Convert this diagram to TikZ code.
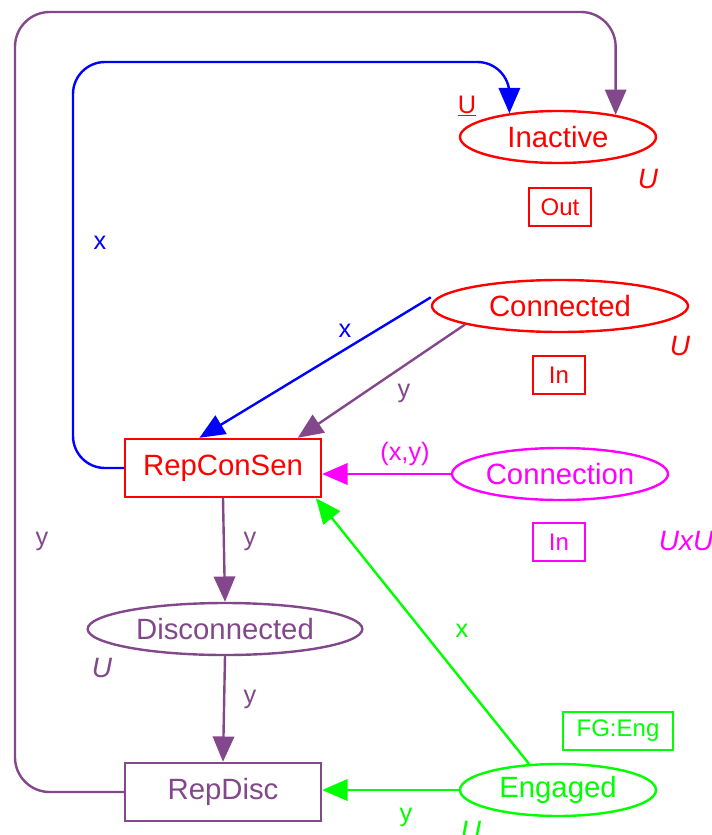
\documentclass[tikz,border=0pt]{standalone}
\usepackage{fontspec}
\setmainfont{Liberation Sans}
\usepackage{xcolor}
\usepackage{tikz}
\usetikzlibrary{arrows.meta,shapes.geometric}
\definecolor{pred}{HTML}{FF0000}
\definecolor{pblue}{HTML}{0000FF}
\definecolor{pmag}{HTML}{FF00FF}
\definecolor{pgreen}{HTML}{00FF00}
\definecolor{ppurple}{HTML}{83488B}
\tikzset{
  place/.style={ellipse, draw, line width=1.8pt, inner sep=0pt, minimum height=39pt, font=\fontsize{22}{24}\selectfont},
  trans/.style={rectangle, draw, line width=1.8pt, inner sep=0pt, minimum width=147pt, minimum height=43.5pt, font=\fontsize{22}{24}\selectfont},
  tag/.style={rectangle, draw, line width=1.5pt, inner sep=0pt, minimum height=28pt, font=\fontsize{18}{20}\selectfont},
  arc/.style={line width=1.8pt, line join=round, -{Triangle[length=19pt,width=16pt]}},
  lab/.style={font=\fontsize{19}{21}\selectfont},
  ms/.style={font=\fontsize{21}{23}\selectfont\itshape},
}
\begin{document}
\begin{tikzpicture}[x=0.75pt,y=-0.75pt]
  \useasboundingbox (0,0) rectangle (712,835);
  % places
  \node[place, draw=pred, text=pred, minimum width=147pt] (Inactive) at (558,137) {Inactive};
  \node[place, draw=pred, text=pred, minimum width=192pt] (Connected) at (560,306) {Connected};
  \node[place, draw=pmag, text=pmag, minimum width=162pt] (Connection) at (560,474) {Connection};
  \node[place, draw=ppurple, text=ppurple, minimum width=206pt] (Disconnected) at (225,629) {Disconnected};
  \node[place, draw=pgreen, text=pgreen, minimum width=147pt] (Engaged) at (558,790) {Engaged};
  % transitions
  \node[trans, draw=pred, text=pred] (RepConSen) at (223,468) {RepConSen};
  \node[trans, draw=ppurple, text=ppurple] (RepDisc) at (223,792) {RepDisc};
  % inscriptions of places
  \node[lab, text=pred] (InactiveInit) at (467,106) {\underline{U}};
  \node[ms, text=pred] (InactiveSet) at (648,179) {U};
  \node[tag, draw=pred, text=pred, minimum width=46pt] (InactiveOut) at (560,207) {Out};
  \node[ms, text=pred] (ConnectedSet) at (680,346) {U};
  \node[tag, draw=pred, text=pred, minimum width=39pt] (ConnectedIn) at (559,375) {In};
  \node[ms, text=pmag] (ConnectionSet) at (686,541) {UxU};
  \node[tag, draw=pmag, text=pmag, minimum width=39pt] (ConnectionIn) at (559,542) {In};
  \node[ms, text=ppurple] (DisconnectedSet) at (102,668) {U};
  \node[ms, text=pgreen] (EngagedSet) at (471,831) {U};
  \node[tag, draw=pgreen, text=pgreen, minimum width=82pt] (EngagedFG) at (618,731) {FG:Eng};
  % arcs
  \draw[arc, pblue, rounded corners=24pt] (RepConSen.west) -- (RepConSen.west -| 73,0) -- (73,62) -- (Inactive.154 |- 0,62) -- (Inactive.154);
  \draw[arc, ppurple, rounded corners=26pt] (RepDisc.west) -- (RepDisc.west -| 15,0) -- (15,12) -- (Inactive.21 |- 0,12) -- (Inactive.21);
  \draw[arc, pblue] ([yshift=6.5pt]Connected.west) -- (RepConSen.128);
  \draw[arc, ppurple] (Connected.191) -- (RepConSen.22);
  \draw[arc, pmag] (Connection.west) -- (Connection.west -| RepConSen.east);
  \draw[arc, ppurple] (RepConSen.south) -- (Disconnected.north);
  \draw[arc, ppurple] (Disconnected.south) -- (RepDisc.north);
  \draw[arc, pgreen] (Engaged.138) -- (RepConSen.-18);
  \draw[arc, pgreen] (Engaged.west) -- (Engaged.west -| RepDisc.east);
  % arc inscriptions
  \node[lab, text=pblue] (xOut) at (100,243) {x};
  \node[lab, text=ppurple] (yOut) at (42,541) {y};
  \node[lab, text=pblue] (xIn) at (345,331) {x};
  \node[lab, text=ppurple] (yIn) at (404,393) {y};
  \node[lab, text=pmag] (xyIn) at (405,454) {(x,y)};
  \node[lab, text=ppurple] (yDis) at (250,541) {y};
  \node[lab, text=ppurple] (yRep) at (250,699) {y};
  \node[lab, text=pgreen] (xEng) at (462,631) {x};
  \node[lab, text=pgreen] (yEng) at (406,817) {y};
\end{tikzpicture}
\end{document}
